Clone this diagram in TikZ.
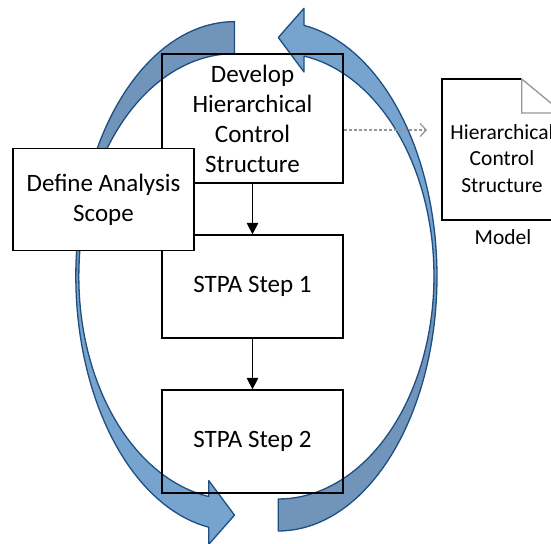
\documentclass[tikz,border=0pt]{standalone}
\usepackage{fontspec}
\setmainfont{Carlito}
\usetikzlibrary{arrows.meta}

\definecolor{loopfront}{RGB}{118,164,207}
\definecolor{loopback}{RGB}{113,148,186}
\definecolor{loopedge}{RGB}{31,78,128}
\definecolor{refgray}{RGB}{150,150,150}

% one curved loop arrow: tail at the bottom, head at the top pointing left
\newcommand{\looparrow}{%
  \fill[loopfront]
    plot[domain=90:-80.68,samples=80] ({278.3+158.7*cos(\x)},{276.5+254.5*sin(\x)})
    -- (304,8.3) -- (278.3,37.5) -- (304,72)
    -- plot[domain=-80.5:90,samples=80] ({278.3+155.7*cos(\x)},{276+223*sin(\x)})
    -- cycle;
  \fill[loopback]
    plot[domain=90:0,samples=60] ({278.3+158.7*cos(\x)},{276.5+254.5*sin(\x)})
    -- plot[domain=0:90,samples=60] ({278.3+155.7*cos(\x)},{276+223*sin(\x)})
    -- cycle;
  \draw[loopedge,line width=1.3pt,line join=round]
    plot[domain=90:-80.68,samples=80] ({278.3+158.7*cos(\x)},{276.5+254.5*sin(\x)})
    -- (304,8.3) -- (278.3,37.5) -- (304,72)
    -- plot[domain=-80.5:90,samples=80] ({278.3+155.7*cos(\x)},{276+223*sin(\x)})
    -- cycle;
}

\begin{document}
\begin{tikzpicture}[x=1pt,y=-1pt,
  procbox/.style={draw=black,line width=1.3pt,inner sep=0pt,
    minimum width=181pt,align=center,
    font=\fontsize{25}{30}\selectfont},
  flow/.style={draw=black,line width=1.3pt,
    -{Triangle[length=11.5pt,width=11.5pt]}},
  reflink/.style={draw=refgray,line width=1.2pt,dash pattern=on 3pt off 2pt,
    -{Straight Barb[length=6pt,width=13pt]}},
  doctext/.style={align=center,inner sep=0pt,
    font=\fontsize{21.5}{26.7}\selectfont}
]
\useasboundingbox (0,0) rectangle (551,543);
\clip (0,0) rectangle (551,543);

% the two loop arrows around the process
\begin{scope}
  \looparrow
\end{scope}
\begin{scope}[rotate around={180:(256.4,276.3)}]
  \looparrow
\end{scope}

% process boxes
\node[procbox,minimum height=129pt] (dev) at (252.5,118.5)
  {Develop\\Hierarchical\\Control\\Structure};
\node[procbox,minimum height=103pt] (s1) at (252.5,286.5) {STPA Step 1};
\node[procbox,minimum height=103pt] (s2) at (252.5,441.5) {STPA Step 2};
\node[procbox,fill=white,minimum height=102pt] (scope) at (103.5,199.5)
  {Define Analysis\\Scope};

\draw[flow] (dev) -- (s1);
\draw[flow] (s1) -- (s2);

% model document
\draw[black,line width=1.3pt,line join=miter]
  (521.7,79) -- (442,79) -- (442,220) -- (563,220) -- (563,113);
\draw[refgray,line width=1.3pt,line join=miter]
  (521.7,79) -- (563,113) -- (521.7,113) -- cycle;
\node[doctext] (doc) at (502,158.5) {Hierarchical\\Control\\Structure};
\node[doctext] (model) at (503,237.5) {Model};

\coordinate (docin) at (427,130);
\draw[reflink] (dev.east |- docin) -- (docin);
\end{tikzpicture}
\end{document}
